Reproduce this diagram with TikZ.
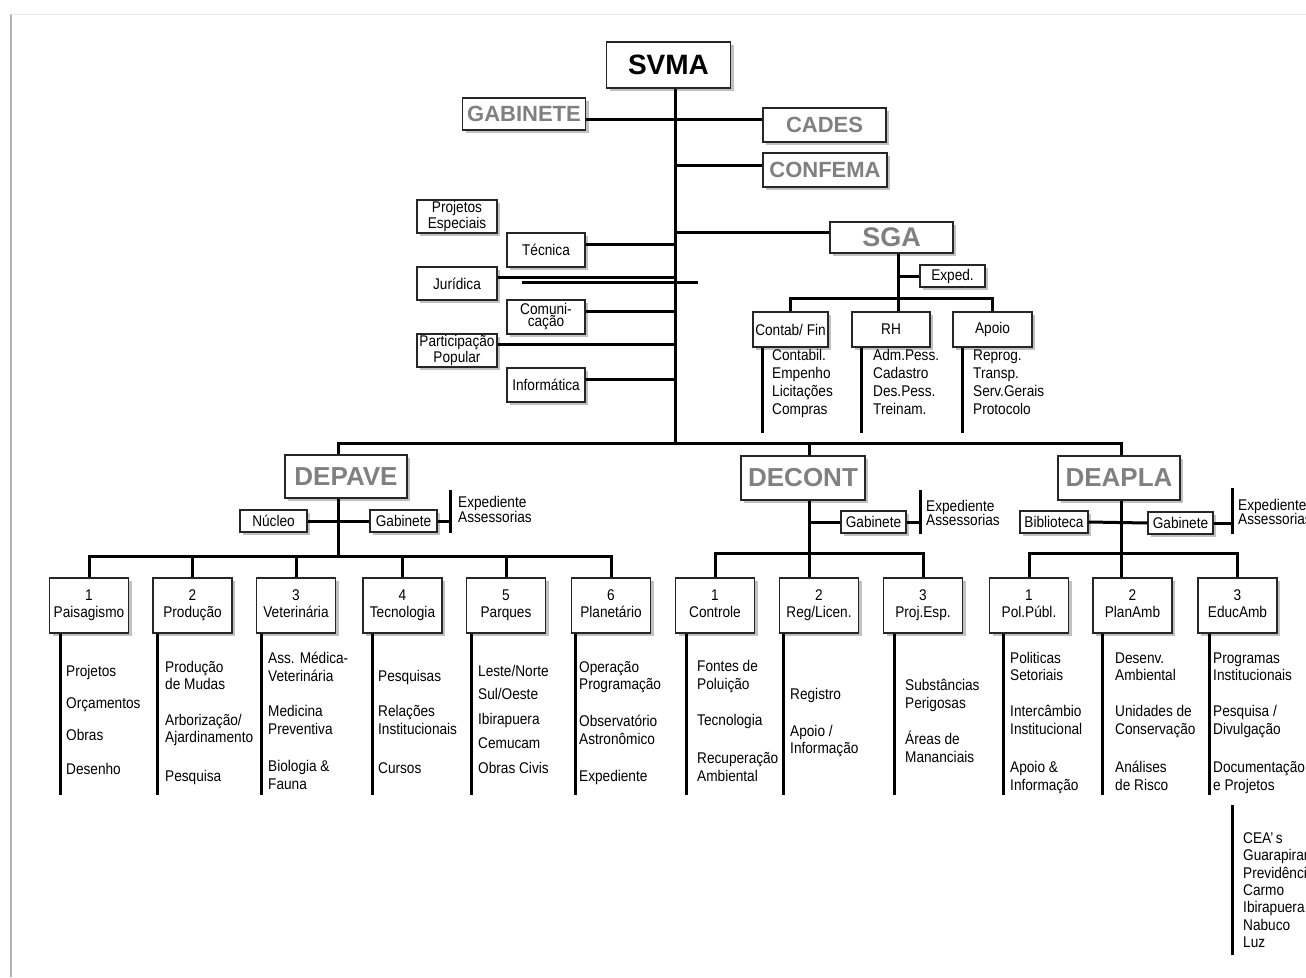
\documentclass[tikz,border=0pt]{standalone}
\usepackage{fontspec}
\setmainfont{Liberation Sans}[FakeStretch=0.88]
\newfontfamily\headfont{Liberation Sans}
\usetikzlibrary{shadows}
\newcommand\hd[1]{\headfont\bfseries\fontsize{#1}{#1}\selectfont}
\newcommand\sublist[3]{\foreach \lbl/\ypos [count=\i] in {#3} \node[listitem] (#1\i) at (#2,\ypos) {\strut\lbl\strut};}

\begin{document}
\begin{tikzpicture}[x=1pt,y=-1pt,
  box/.style={draw=black!85,line width=1.3pt,fill=white,inner sep=0pt,align=center,
    drop shadow={shadow xshift=3pt,shadow yshift=-3pt,fill=black!40,opacity=.6},
    font=\fontsize{15.5}{17.5}\selectfont},
  headbox/.style={box,text=black!50,font=\hd{22}},
  tightbox/.style={font=\fontsize{15.5}{12}\selectfont},
  sz/.style 2 args={minimum width=#1pt,minimum height=#2pt},
  conn/.style={line width=3pt},
  listitem/.style={anchor=west,inner sep=0pt,align=left,font=\fontsize{15.5}{17.5}\selectfont},
  sgalist/.style={listitem,font=\fontsize{15.5}{18}\selectfont},
  exptext/.style={listitem,font=\fontsize{15.5}{14.5}\selectfont}]
\fill[white] (0,0) rectangle (1306,977);
\useasboundingbox (0,0) rectangle (1306,977);
% page edge
\draw[black!30,line width=1.6pt] (11,14) -- (11,977);
\draw[black!8,line width=1pt] (11,14) -- (1306,14);

% top
\node[headbox,sz={124}{46},text=black,font=\hd{28}] (svma) at (668.5,65) {SVMA};
\node[headbox,sz={123}{32}] (gab) at (524,114) {GABINETE};
\node[headbox,sz={123}{34}] (cades) at (824.5,125) {CADES};
\node[headbox,sz={124}{34}] (confema) at (825,170) {CONFEMA};
\node[box,sz={80}{33},tightbox] (pesp) at (457,216.5) {Projetos\\Especiais};
\node[box,sz={78}{34}] (tec) at (546,250) {Técnica};
\node[box,sz={80}{33}] (jur) at (457,283.5) {Jurídica};
\node[box,sz={78}{34},tightbox] (com) at (546,317) {Comuni-\\cação};
\node[box,sz={80}{33},tightbox] (part) at (457,350.5) {Participação\\Popular};
\node[box,sz={78}{34}] (inf) at (546,385) {Informática};

% SGA
\node[headbox,sz={123}{31},font=\hd{27}] (sga) at (891.5,237.5) {SGA};
\node[box,sz={65}{22}] (exped) at (952.5,276) {Exped.};
\node[box,sz={75}{35}] (contab) at (790.5,329.5) {Contab/ Fin};
\node[box,sz={78}{35}] (rh) at (891,329.5) {RH};
\node[box,sz={79}{35}] (apoio) at (992.5,329.5) {Apoio};
\node[sgalist] (cfl) at (772,384) {\strut Contabil.\\Empenho\\Licitações\\Compras\strut};
\node[sgalist] (rhl) at (873,384) {\strut Adm.Pess.\\Cadastro\\Des.Pess.\\Treinam.\strut};
\node[sgalist] (apl) at (973,384) {\strut Reprog.\\Transp.\\Serv.Gerais\\Protocolo\strut};

% departments
\node[headbox,sz={122}{43},font=\hd{26}] (depave) at (346,476.5) {DEPAVE};
\node[headbox,sz={124}{44},font=\hd{26}] (decont) at (803,478) {DECONT};
\node[headbox,sz={122}{44},font=\hd{26}] (deapla) at (1119,478) {DEAPLA};
\node[box,sz={67}{22}] (dpnuc) at (273.5,521) {Núcleo};
\node[box,sz={67}{22}] (dpgab) at (403.5,521) {Gabinete};
\node[box,sz={65}{22}] (dcgab) at (873.5,522) {Gabinete};
\node[box,sz={68}{22}] (dabib) at (1054,522) {Biblioteca};
\node[box,sz={65}{22}] (dagab) at (1180.5,523) {Gabinete};
\node[exptext] (dpexp) at (458,509.5) {Expediente\\Assessorias};
\node[exptext] (dcexp) at (926,513) {Expediente\\Assessorias};
\node[exptext] (daexp) at (1238,512) {Expediente\\Assessorias};

% divisions
\foreach \n/\x/\lbl in {p1/89/{1\\Paisagismo},p2/192.5/{2\\Produção},p3/296/{3\\Veterinária},
  p4/402.5/{4\\Tecnologia},p5/506/{5\\Parques},p6/611/{6\\Planetário},
  c1/715/{1\\Controle},c2/819/{2\\Reg/Licen.},c3/923/{3\\Proj.Esp.},
  d1/1029/{1\\Pol.Públ.},d2/1132.5/{2\\PlanAmb},d3/1237.5/{3\\EducAmb}}
  \node[box,sz={79}{55}] (\n) at (\x,605.5) {\strut\lbl\strut};

\sublist{pa}{66}{Projetos/673,Orçamentos/705,Obras/737,Desenho/771}
\sublist{pb}{165}{{Produção\\de Mudas}/677.5,{Arborização/\\Ajardinamento}/730.5,Pesquisa/778}
\sublist{pc}{268}{{Ass. Médica-\\Veterinária}/669,{Medicina\\Preventiva}/722,{Biologia \&\\Fauna}/777}
\sublist{pd}{378}{Pesquisas/678,{Relações\\Institucionais}/722,Cursos/770}
\sublist{pe}{478}{{Leste/Norte}/673,{Sul/Oeste}/696,Ibirapuera/721,Cemucam/745,{Obras Civis}/770}
\sublist{pf}{579}{{Operação\\Programação}/677.5,{Observatório\\Astronômico}/732,Expediente/778}
\sublist{ca}{697}{{Fontes de\\Poluição}/677,Tecnologia/722,{Recuperação\\Ambiental}/769}
\sublist{cb}{790}{Registro/696,{Apoio /\\Informação}/741.5}
\sublist{cc}{905}{{Substâncias\\Perigosas}/696,{Áreas de\\Mananciais}/749.5}
\sublist{da}{1010}{{Politicas\\Setoriais}/668.5,{Intercâmbio\\Institucional}/722,{Apoio \&\\Informação}/778}
\sublist{db}{1115}{{Desenv.\\Ambiental}/668.5,{Unidades de\\Conservação}/722,{Análises\\de Risco}/778}
\sublist{dc}{1213}{{Programas\\Institucionais}/668.5,{Pesquisa /\\Divulgação}/722,{Documentação\\e Projetos}/778}
\node[listitem,font=\fontsize{15.5}{17.3}\selectfont] (cea) at (1243,892)
  {\strut CEA’\,s\\Guarapiranga\\Previdência\\Carmo\\Ibirapuera\\Nabuco\\Luz\strut};

% connectors, top
\coordinate (tr) at (675,443);
\coordinate (gl) at (675,119);
\draw[conn] (svma.south -| tr) -- (tr);
\draw[conn] (gab.east |- gl) -- (cades.west |- gl);
\draw[conn] ([yshift=5pt]confema.west -| tr) -- ([yshift=5pt]confema.west);
\foreach \n in {tec,jur,com,part,inf}
  \draw[conn] ([yshift=6pt]\n.east) -- ([yshift=6pt]\n.east -| tr);
\coordinate (ja) at (522,282);
\coordinate (jb) at (698,282);
\draw[conn] (ja) -- (jb);
\draw[conn] ([yshift=5pt]sga.west) -- ([yshift=5pt]sga.west -| tr);
% SGA
\coordinate (sb) at (898,298);
\draw[conn] (sga.south -| sb) -- (sb);
\draw[conn] (exped.west) -- (exped.west -| sb);
\draw[conn] (contab.north) |- (sb) -| (apoio.north);
\draw[conn] (sb) -- (sb |- rh.north);
\foreach \n in {contab,rh,apoio} \draw[conn] ([xshift=10pt]\n.south west) -- ++(0,85);

% main bus
\coordinate (s1) at (338,443);
\coordinate (s2) at (809,443);
\coordinate (s3) at (1121,443);
\draw[conn] (s1 |- depave.north) -- (s1) -- (s3) -- (s3 |- deapla.north);
\draw[conn] (s2) -- (s2 |- decont.north);
% DEPAVE
\coordinate (b1) at (338,556);
\draw[conn] (s1 |- depave.south) -- (b1);
\draw[conn] (dpnuc.east) -- (dpgab.west);
\draw[conn] (dpgab.east) -- ++(13,0) ++(0,-31) -- ++(0,43);
\draw[conn] (p1.north) |- (b1) -| (p6.north);
\foreach \n in {p2,p3,p4,p5} \draw[conn] (\n.north) -- (\n.north |- b1);
% DECONT
\coordinate (b2) at (809,553);
\draw[conn] (s2 |- decont.south) -- (b2 |- c2.north);
\draw[conn] (b2 |- dcgab.west) -- (dcgab.west);
\draw[conn] (dcgab.east) -- ++(14,0) ++(0,-32) -- ++(0,44);
\draw[conn] (c1.north) |- (b2) -| (c3.north);
% DEAPLA
\coordinate (b3) at (1121,553);
\draw[conn] (s3 |- deapla.south) -- (b3 |- d2.north);
\draw[conn] (dabib.east) -- (dagab.west);
\draw[conn] (dagab.east) -- ++(19,0) ++(0,-35) -- ++(0,46);
\draw[conn] (d1.north) |- (b3) -| (d3.north);
% list stems
\foreach \n/\d in {p1/12,p2/5,p3/6,p4/10,p5/6,p6/5,c1/12,c2/5,c3/12,d1/15,d2/10,d3/12}
  \draw[conn] ([xshift=\d pt]\n.south west) -- ++(0,161);
\coordinate (ce) at (1232,805);
\draw[conn] (ce) -- ++(0,150);
\end{tikzpicture}
\end{document}
